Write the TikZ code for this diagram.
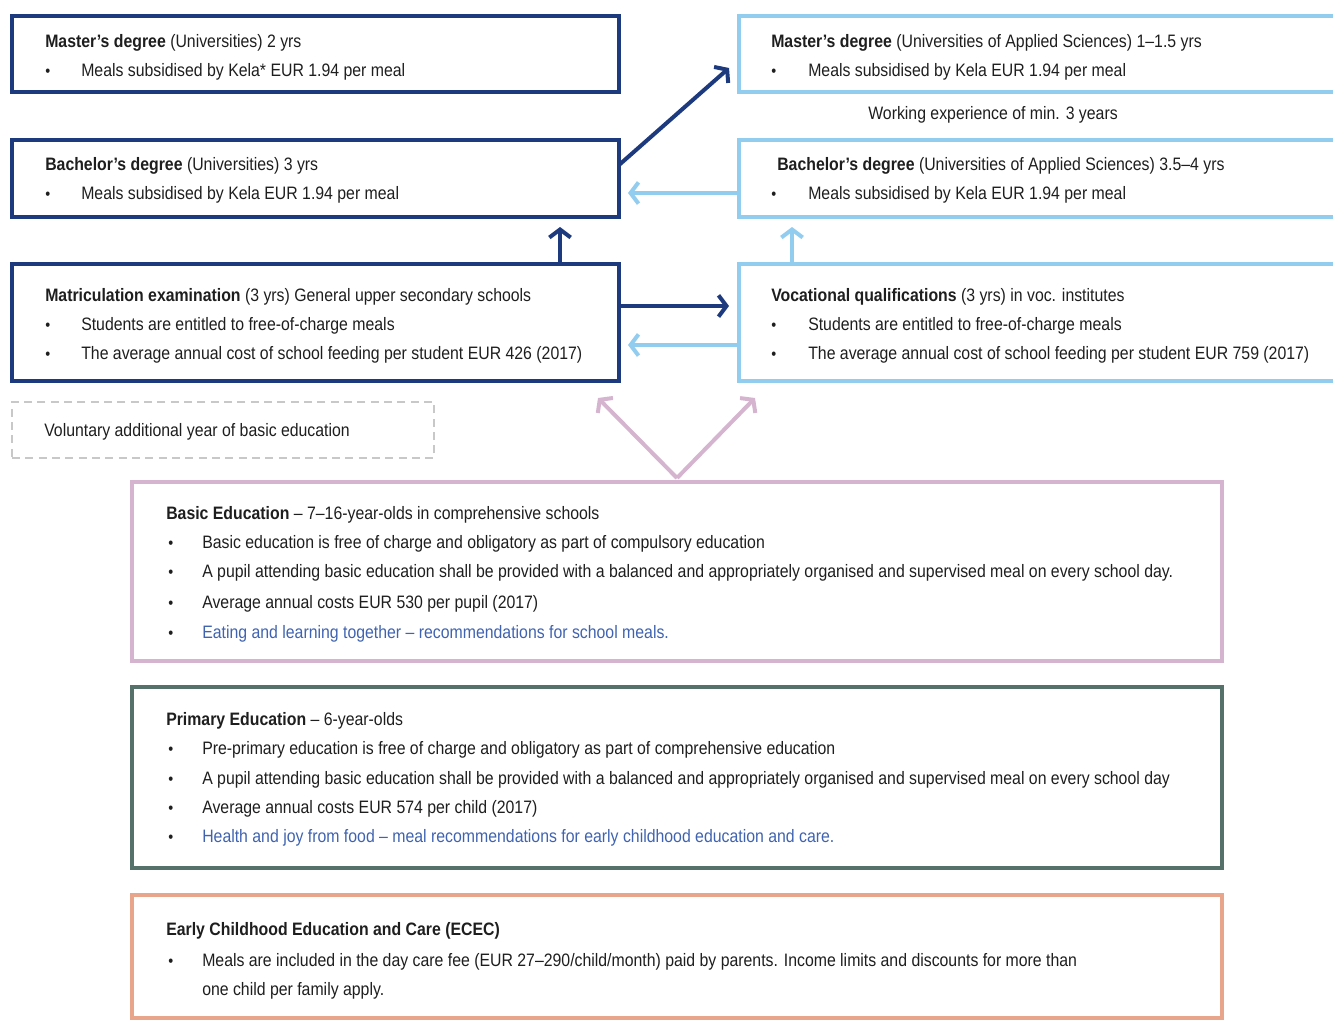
\documentclass[tikz,border=0pt]{standalone}
\usepackage{fontspec}
\setmainfont{Liberation Sans}[FakeStretch=0.88]
\usetikzlibrary{arrows.meta,calc}
\definecolor{dblue}{HTML}{1C3A7D}
\definecolor{lblue}{HTML}{92CDF0}
\definecolor{pinkc}{HTML}{D5B4D0}
\definecolor{greenc}{HTML}{56706A}
\definecolor{salmon}{HTML}{E9A48C}
\definecolor{dashg}{HTML}{C8C8C8}
\definecolor{linkc}{HTML}{3F63B0}
\definecolor{txt}{HTML}{1E1E1E}
\tikzset{
  box/.style={draw, line width=3pt, inner sep=0pt, outer sep=0pt},
  ln/.style={anchor=base west, inner sep=0pt, text=txt, font=\fontsize{13.5pt}{16pt}\selectfont},
  bul/.style={anchor=base west, inner sep=0pt, text=txt, font=\fontsize{12pt}{14pt}\selectfont},
  arr/.style={line width=3pt, -{Straight Barb[length=6pt,width=16pt,line width=3pt]}},
}
\begin{document}
\begin{tikzpicture}[x=0.75pt,y=-0.75pt]
\useasboundingbox (0,0) rectangle (1333,1021);
\clip (0,0) rectangle (1333,1021);
% boxes
\node[box, draw=dblue, minimum width=607*0.75pt, minimum height=76*0.75pt] (mastU) at (315.5,54) {};
\node[box, draw=dblue, minimum width=607*0.75pt, minimum height=77*0.75pt] (bachU) at (315.5,178.5) {};
\node[box, draw=dblue, minimum width=607*0.75pt, minimum height=117*0.75pt] (matric) at (315.5,322.5) {};
\node[draw=dashg, line width=2pt, dash pattern=on 6pt off 4pt, inner sep=0pt, minimum width=422*0.75pt, minimum height=56*0.75pt] (volun) at (223,430) {};
\node[box, draw=lblue, minimum width=606*0.75pt, minimum height=76*0.75pt] (mastA) at (1042,54) {};
\node[box, draw=lblue, minimum width=606*0.75pt, minimum height=77*0.75pt] (bachA) at (1042,178.5) {};
\node[box, draw=lblue, minimum width=606*0.75pt, minimum height=117*0.75pt] (voc) at (1042,322.5) {};
\node[box, draw=pinkc, minimum width=1090*0.75pt, minimum height=179*0.75pt] (basic) at (677,571.5) {};
\node[box, draw=greenc, line width=3.6pt, minimum width=1090*0.75pt, minimum height=181*0.75pt] (prim) at (677,777.5) {};
\node[box, draw=salmon, minimum width=1090*0.75pt, minimum height=123*0.75pt] (ecec) at (677,956.5) {};
% texts left
\node[ln] (t1) at (45,47) {\textbf{Master’s degree} (Universities) 2 yrs};
\node[bul] (b1) at (45,76) {•};
\node[ln] (t1a) at (81,76) {Meals subsidised by Kela* EUR 1.94 per meal};
\node[ln] (t2) at (45,170) {\textbf{Bachelor’s degree} (Universities) 3 yrs};
\node[bul] (b2) at (45,199) {•};
\node[ln] (t2a) at (81,199) {Meals subsidised by Kela EUR 1.94 per meal};
\node[ln] (t3) at (45,301) {\textbf{Matriculation examination} (3 yrs) General upper secondary schools};
\node[bul] (b3) at (45,330) {•};
\node[ln] (t3a) at (81,330) {Students are entitled to free-of-charge meals};
\node[bul] (b4) at (45,359) {•};
\node[ln] (t3b) at (81,359) {The average annual cost of school feeding per student EUR 426 (2017)};
\node[ln] (tv) at (44,436) {Voluntary additional year of basic education};
% texts right
\node[ln] (r1) at (771,47) {\textbf{Master’s degree} (Universities of Applied Sciences) 1–1.5 yrs};
\node[bul] (rb1) at (771,76) {•};
\node[ln] (r1a) at (808,76) {Meals subsidised by Kela EUR 1.94 per meal};
\node[ln, anchor=base] (we) at (993,119) {Working experience of min. 3 years};
\node[ln] (r2) at (777,170) {\textbf{Bachelor’s degree} (Universities of Applied Sciences) 3.5–4 yrs};
\node[bul] (rb2) at (771,199) {•};
\node[ln] (r2a) at (808,199) {Meals subsidised by Kela EUR 1.94 per meal};
\node[ln] (r3) at (771,301) {\textbf{Vocational qualifications} (3 yrs) in voc. institutes};
\node[bul] (rb3) at (771,330) {•};
\node[ln] (r3a) at (808,330) {Students are entitled to free-of-charge meals};
\node[bul] (rb4) at (771,359) {•};
\node[ln] (r3b) at (808,359) {The average annual cost of school feeding per student EUR 759 (2017)};
% basic
\node[ln] (s1) at (166,519) {\textbf{Basic Education} – 7–16-year-olds in comprehensive schools};
\node[bul] (sb1) at (168,548) {•};
\node[ln] (s1a) at (202,548) {Basic education is free of charge and obligatory as part of compulsory education};
\node[bul] (sb2) at (168,577) {•};
\node[ln] (s1b) at (202,577) {A pupil attending basic education shall be provided with a balanced and appropriately organised and supervised meal on every school day.};
\node[bul] (sb3) at (168,608) {•};
\node[ln] (s1c) at (202,608) {Average annual costs EUR 530 per pupil (2017)};
\node[bul] (sb4) at (168,638) {•};
\node[ln, text=linkc] (s1d) at (202,638) {Eating and learning together – recommendations for school meals.};
% primary
\node[ln] (p1) at (166,725) {\textbf{Primary Education} – 6-year-olds};
\node[bul] (pb1) at (168,754) {•};
\node[ln] (p1a) at (202,754) {Pre-primary education is free of charge and obligatory as part of comprehensive education};
\node[bul] (pb2) at (168,784) {•};
\node[ln] (p1b) at (202,784) {A pupil attending basic education shall be provided with a balanced and appropriately organised and supervised meal on every school day};
\node[bul] (pb3) at (168,813) {•};
\node[ln] (p1c) at (202,813) {Average annual costs EUR 574 per child (2017)};
\node[bul] (pb4) at (168,842) {•};
\node[ln, text=linkc] (p1d) at (202,842) {Health and joy from food – meal recommendations for early childhood education and care.};
% ecec
\node[ln] (e1) at (166,935) {\textbf{Early Childhood Education and Care (ECEC)}};
\node[bul] (eb1) at (168,966) {•};
\node[ln] (e1a) at (202,966) {Meals are included in the day care fee (EUR 27–290/child/month) paid by parents. Income limits and discounts for more than};
\node[ln] (e1b) at (202,995) {one child per family apply.};
% arrows
\coordinate (bUr) at (bachU.east |- 0,165);
\coordinate (mAl) at (729,68);
\draw[arr, draw=dblue] (bUr) -- (mAl);
\draw[arr, draw=lblue] (bachA.west |- 0,193) -- (628,193);
\draw[arr, draw=dblue] (matric.north -| 560,0) -- (560,227);
\draw[arr, draw=lblue] (voc.north -| 792,0) -- (792,227);
\draw[arr, draw=dblue, line width=3.6pt] (matric.east |- 0,306) -- (729,306);
\draw[arr, draw=lblue] (voc.west |- 0,345) -- (628,345);
\coordinate (pk) at (677,478);
\draw[arr, draw=pinkc] (pk) -- (598,398);
\draw[arr, draw=pinkc] (pk) -- (755,398);
\end{tikzpicture}
\end{document}
